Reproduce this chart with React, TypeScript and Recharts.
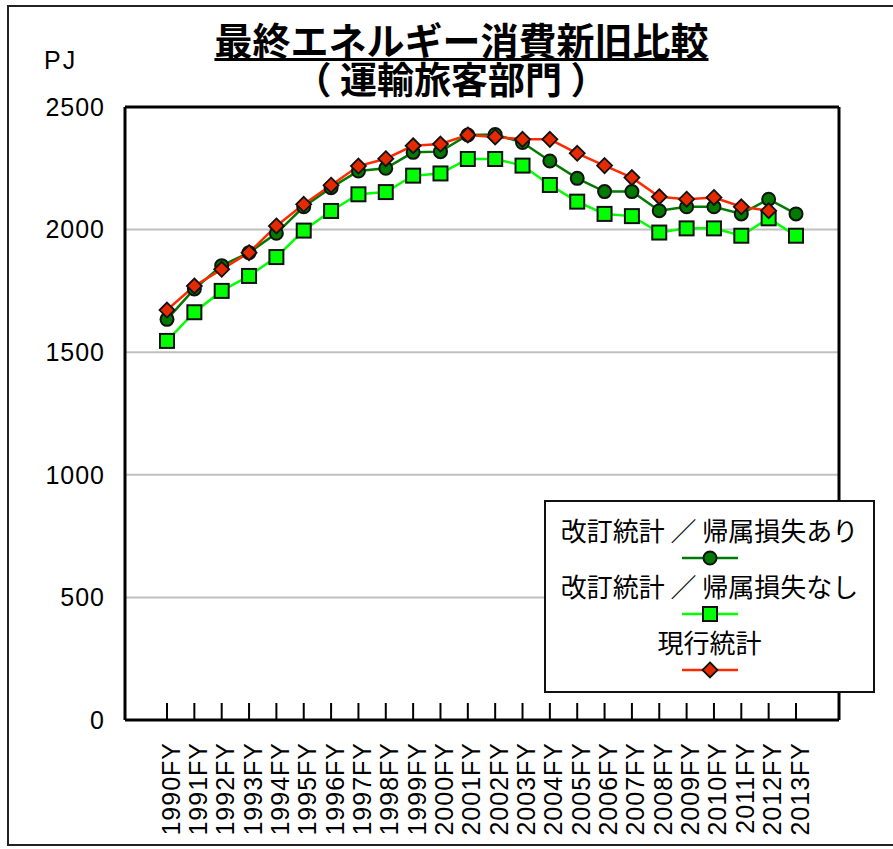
import { LineChart, Line, XAxis, YAxis, CartesianGrid, Legend } from 'recharts';

const years = [
  '1990FY', '1991FY', '1992FY', '1993FY', '1994FY', '1995FY', '1996FY', '1997FY',
  '1998FY', '1999FY', '2000FY', '2001FY', '2002FY', '2003FY', '2004FY', '2005FY',
  '2006FY', '2007FY', '2008FY', '2009FY', '2010FY', '2011FY', '2012FY', '2013FY',
];

// 改訂統計 / 帰属損失あり
const revisedWithLoss = [
  1634, 1758, 1853, 1906, 1985, 2093, 2171, 2239, 2250, 2315, 2318, 2386,
  2388, 2355, 2280, 2209, 2155, 2155, 2077, 2093, 2093, 2064, 2124, 2064,
];

// 改訂統計 / 帰属損失なし
const revisedNoLoss = [
  1546, 1663, 1750, 1811, 1888, 1996, 2076, 2144, 2153, 2220, 2229, 2288,
  2288, 2261, 2182, 2114, 2064, 2055, 1988, 2005, 2005, 1975, 2046, 1975,
];

// 現行統計 (no 2013 value)
const currentStats = [
  1672, 1770, 1838, 1906, 2015, 2103, 2181, 2259, 2289, 2342, 2349, 2386,
  2378, 2368, 2368, 2311, 2261, 2212, 2134, 2124, 2131, 2093, 2077, null,
];

const yTicks = [0, 500, 1000, 1500, 2000, 2500];

const SERIES = [
  { key: 'withLoss', name: '改訂統計 ／ 帰属損失あり', line: '#007a00', fill: '#007a00', shape: 'circle' },
  { key: 'noLoss', name: '改訂統計 ／ 帰属損失なし', line: '#00ff00', fill: '#00ff00', shape: 'square' },
  { key: 'current', name: '現行統計', line: '#ff2a00', fill: '#e52a00', shape: 'diamond' },
];

const data = years.map((year, i) => ({
  year,
  withLoss: revisedWithLoss[i],
  noLoss: revisedNoLoss[i],
  current: currentStats[i],
}));

const NUM_FONT = '"Liberation Sans", Arial, "Noto Sans CJK JP", sans-serif';
const JP_FONT = '"Noto Sans CJK JP", "Liberation Sans", sans-serif';

function Marker({ shape, cx, cy, fill }: { shape: string; cx: number; cy: number; fill: string }) {
  if (shape === 'circle') {
    return <circle cx={cx} cy={cy} r={6.5} fill={fill} stroke="#111" strokeWidth={2} />;
  }
  if (shape === 'square') {
    return <rect x={cx - 7} y={cy - 7} width={14} height={14} fill={fill} stroke="#111" strokeWidth={2} />;
  }
  const d = 7.5;
  return (
    <polygon
      points={`${cx},${cy - d} ${cx + d},${cy} ${cx},${cy + d} ${cx - d},${cy}`}
      fill={fill}
      stroke="#111"
      strokeWidth={1.8}
    />
  );
}

function makeDot(shape: string, fill: string) {
  return (props: any) => {
    const { cx, cy, index } = props;
    if (cy == null || cx == null || props.value == null) return <g key={`e-${shape}-${index}`} />;
    return (
      <g key={`d-${shape}-${index}`}>
        <Marker shape={shape} cx={cx} cy={cy} fill={fill} />
      </g>
    );
  };
}

function XTick({ x, y, payload }: any) {
  return (
    <g>
      <line x1={x} x2={x} y1={y - 17} y2={y} stroke="#000" strokeWidth={2} />
      <text
        transform={`translate(${x},${y + 22}) rotate(-90)`}
        textAnchor="end"
        dy="0.5em"
        fontSize={25}
        letterSpacing={1}
        fontFamily={NUM_FONT}
        fill="#000"
      >
        {payload.value}
      </text>
    </g>
  );
}

function LegendBox() {
  return (
    <div
      style={{
        boxSizing: 'border-box',
        width: 331,
        height: 193,
        border: '2px solid #111',
        background: '#fff',
        paddingTop: 14,
        fontFamily: JP_FONT,
        fontSize: 26,
        color: '#000',
        textAlign: 'center',
      }}
    >
      {SERIES.map((s) => (
        <div key={s.key}>
          <div style={{ height: 28, lineHeight: '28px', whiteSpace: 'nowrap' }}>{s.name}</div>
          <svg width={60} height={28} style={{ display: 'block', margin: '0 auto' }}>
            <line x1={2} x2={58} y1={14} y2={14} stroke={s.line} strokeWidth={2.5} />
            <Marker shape={s.shape} cx={30} cy={14} fill={s.fill} />
          </svg>
        </div>
      ))}
    </div>
  );
}

export default function App() {
  return (
    <div style={{ position: 'absolute', left: 0, top: 0, width: 893, height: 849, background: '#fff', overflow: 'hidden' }}>
      {/* outer frame */}
      <div
        style={{
          position: 'absolute',
          left: 7,
          top: 5,
          width: 900,
          height: 841,
          border: '2px solid #222',
          boxSizing: 'border-box',
        }}
      />
      <LineChart
        width={893}
        height={849}
        data={data}
        margin={{ top: 106, right: 53, bottom: 9, left: 25 }}
        style={{ position: 'absolute', left: 0, top: 0 }}
      >
        <CartesianGrid vertical={false} stroke="#c0c0c0" strokeWidth={2} />
        <XAxis
          dataKey="year"
          height={120}
          padding={{ left: 42, right: 43 }}
          interval={0}
          tickSize={0}
          tickMargin={0}
          tickLine={false}
          axisLine={{ stroke: '#000', strokeWidth: 3 }}
          tick={<XTick />}
        />
        {/* top and right frame of the plot area */}
        <XAxis
          xAxisId="frame"
          orientation="top"
          dataKey="year"
          height={1}
          padding={{ left: 42, right: 43 }}
          tick={false}
          tickLine={false}
          axisLine={{ stroke: '#000', strokeWidth: 3 }}
        />
        <YAxis
          width={100}
          domain={[0, 2500]}
          ticks={yTicks}
          tickLine={false}
          tickMargin={14}
          axisLine={{ stroke: '#000', strokeWidth: 3 }}
          tick={{ fill: '#000', fontSize: 25, fontFamily: NUM_FONT, letterSpacing: 1 }}
        />
        <YAxis
          yAxisId="frame"
          orientation="right"
          width={1}
          domain={[0, 2500]}
          tick={false}
          tickLine={false}
          axisLine={{ stroke: '#000', strokeWidth: 3 }}
        />
        <Legend
          layout="horizontal"
          verticalAlign="middle"
          align="center"
          content={() => <LegendBox />}
          wrapperStyle={{ position: 'absolute', left: 544, top: 500, width: 331, height: 193 }}
        />
        <Line
          xAxisId="frame"
          yAxisId="frame"
          dataKey="withLoss"
          stroke="none"
          dot={false}
          activeDot={false}
          legendType="none"
          isAnimationActive={false}
        />
        {SERIES.map((s) => (
          <Line
            key={s.key}
            type="linear"
            dataKey={s.key}
            name={s.name}
            stroke={s.line}
            strokeWidth={2.5}
            dot={makeDot(s.shape, s.fill)}
            activeDot={false}
            connectNulls={false}
            isAnimationActive={false}
          />
        ))}
      </LineChart>
      {/* titles */}
      <div
        style={{
          position: 'absolute',
          left: 0,
          width: 923,
          top: 20,
          height: 38,
          textAlign: 'center',
          fontFamily: JP_FONT,
          fontWeight: 'bold',
          fontSize: 38,
          lineHeight: '38px',
          color: '#000',
        }}
      >
        <span
          style={{
            display: 'inline-block',
            height: 38,
            verticalAlign: 'top',
            textDecoration: 'underline',
            textDecorationThickness: 3,
            textUnderlineOffset: 3,
          }}
        >
          最終エネルギー消費新旧比較
        </span>
      </div>
      <div
        style={{
          position: 'absolute',
          left: 0,
          width: 902,
          top: 60,
          height: 36,
          textAlign: 'center',
          fontFamily: JP_FONT,
          fontWeight: 'bold',
          fontSize: 37,
          lineHeight: '36px',
          color: '#000',
        }}
      >
        （ 運輸旅客部門 ）
      </div>
      <div
        style={{
          position: 'absolute',
          left: 44,
          top: 46,
          fontFamily: NUM_FONT,
          fontSize: 25,
          letterSpacing: 2,
          color: '#000',
        }}
      >
        PJ
      </div>
    </div>
  );
}
